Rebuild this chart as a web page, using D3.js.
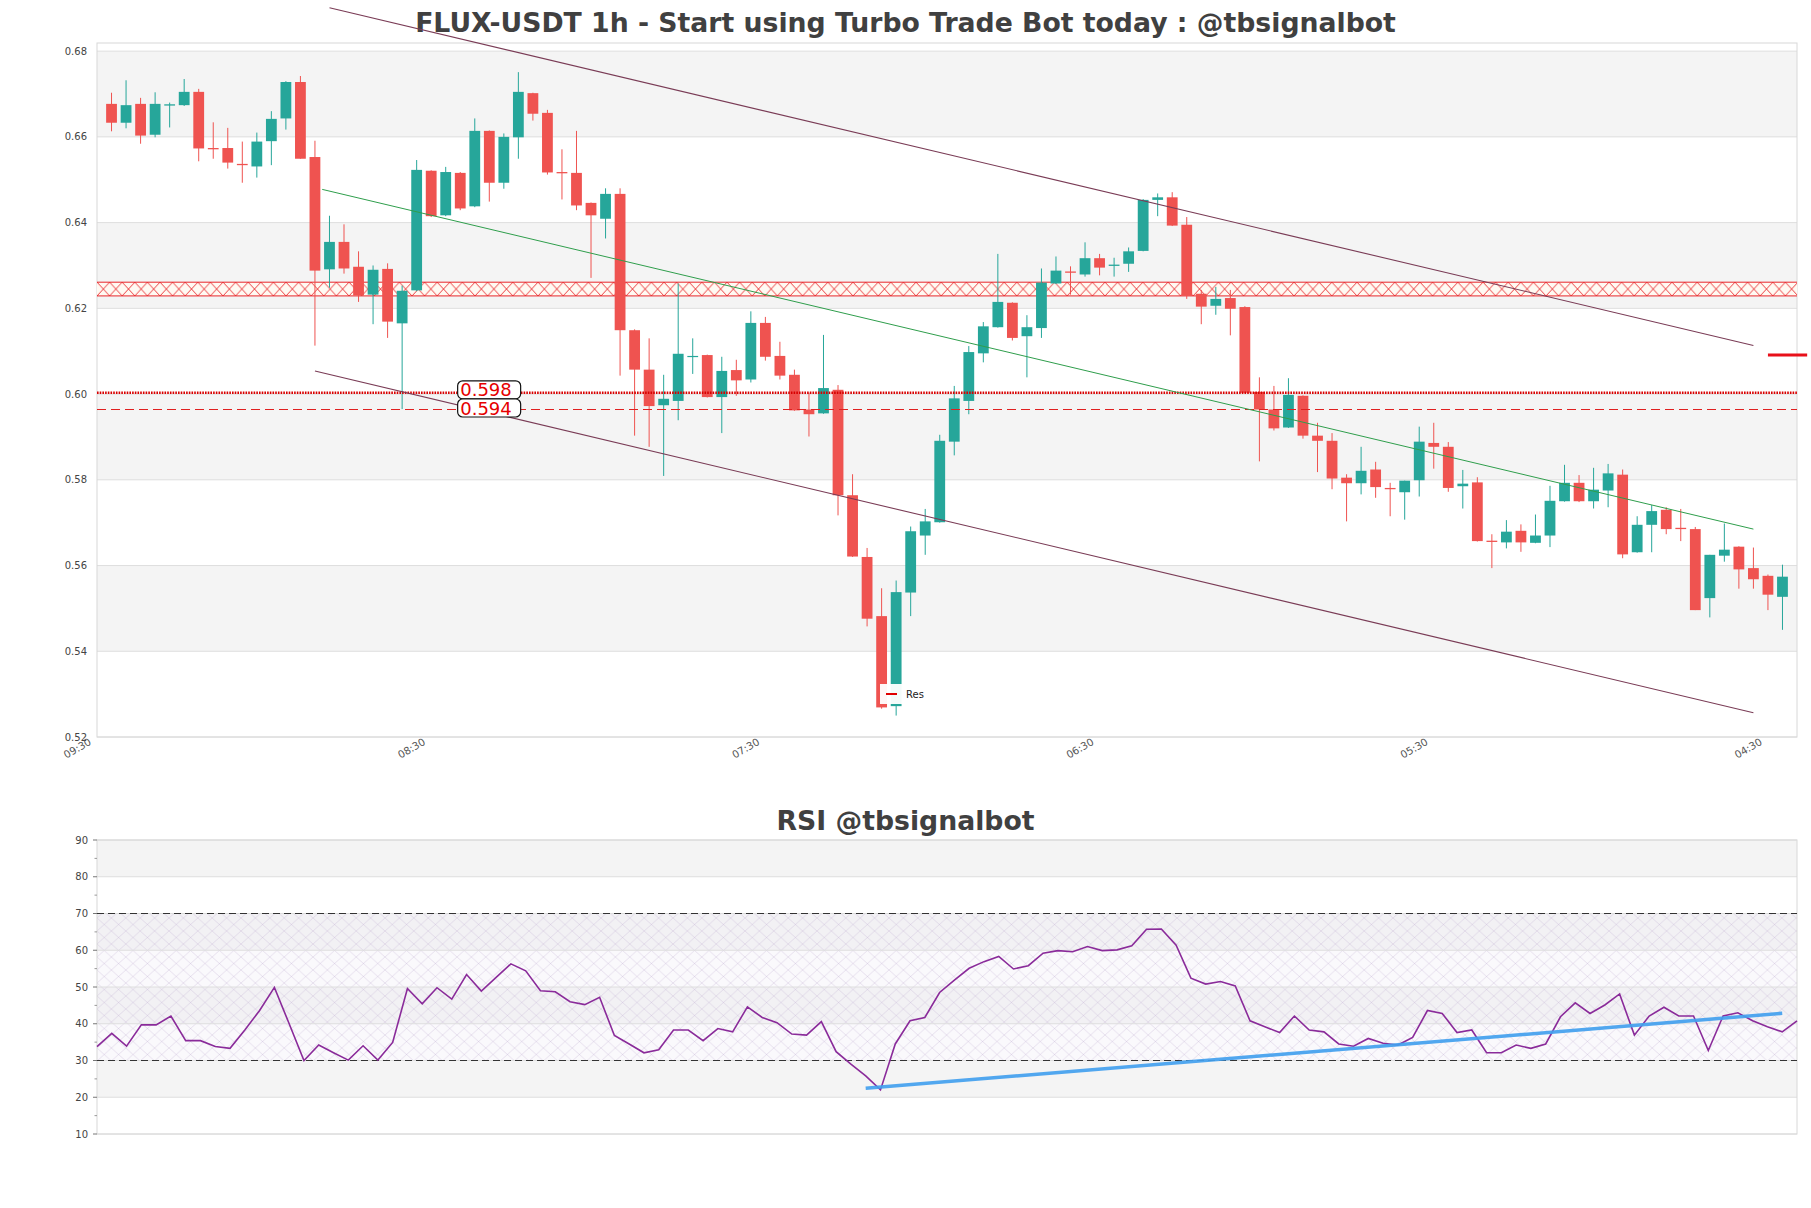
<!DOCTYPE html>
<html><head><meta charset="utf-8">
<script src="https://cdn.jsdelivr.net/npm/d3@7"></script>
<style>
body{margin:0;background:#fff;}
svg{display:block;font-family:"DejaVu Sans",sans-serif;}
</style>
</head><body>
<svg id="c" width="1811" height="1208"></svg>
<script>
// ---------------- DATA ----------------
const opens = [0.6677,0.6633,0.6677,0.6605,0.6673,0.6674,0.6705,0.6574,0.6574,0.6537,
0.6531,0.6590,0.6643,0.6728,0.6553,0.6291,0.6355,0.6297,0.6232,0.6292,
0.6165,0.6242,0.6521,0.6417,0.6516,0.6438,0.6614,0.6493,0.6599,0.6702,
0.6656,0.6518,0.6516,0.6446,0.6409,0.6467,0.6149,0.6057,0.5974,0.5984,
0.6087,0.6091,0.5993,0.6056,0.6034,0.6166,0.6089,0.6045,0.5964,0.5955,
0.6010,0.5764,0.5620,0.5482,0.5272,0.5537,0.5670,0.5701,0.5889,0.5984,
0.6095,0.6156,0.6213,0.6135,0.6154,0.6258,0.6286,0.6279,0.6317,0.6299,
0.6304,0.6334,0.6453,0.6459,0.6395,0.6234,0.6206,0.6224,0.6203,0.6005,
0.5964,0.5922,0.5996,0.5903,0.5891,0.5805,0.5792,0.5824,0.5781,0.5771,
0.5799,0.5886,0.5877,0.5785,0.5794,0.5658,0.5654,0.5681,0.5653,0.5670,
0.5750,0.5793,0.5750,0.5775,0.5812,0.5631,0.5695,0.5730,0.5688,0.5685,
0.5524,0.5623,0.5644,0.5594,0.5576,0.5527];
const highs = [0.6703,0.6732,0.6691,0.6704,0.6680,0.6735,0.6712,0.6634,0.6621,0.6589,
0.6610,0.6660,0.6730,0.6742,0.6591,0.6416,0.6396,0.6333,0.6300,0.6305,
0.6253,0.6546,0.6522,0.6530,0.6518,0.6643,0.6615,0.6608,0.6751,0.6703,
0.6663,0.6571,0.6614,0.6447,0.6480,0.6480,0.6151,0.6130,0.6045,0.6258,
0.6130,0.6092,0.6087,0.6080,0.6193,0.6180,0.6122,0.6057,0.6003,0.6138,
0.6021,0.5813,0.5641,0.5547,0.5565,0.5691,0.5732,0.5905,0.6019,0.6112,
0.6168,0.6327,0.6214,0.6184,0.6293,0.6321,0.6298,0.6354,0.6327,0.6318,
0.6342,0.6455,0.6468,0.6471,0.6413,0.6243,0.6250,0.6243,0.6205,0.6039,
0.6019,0.6037,0.5997,0.5933,0.5909,0.5813,0.5877,0.5842,0.5793,0.5798,
0.5924,0.5933,0.5888,0.5823,0.5806,0.5673,0.5706,0.5696,0.5719,0.5786,
0.5835,0.5811,0.5828,0.5837,0.5824,0.5715,0.5741,0.5736,0.5732,0.5690,
0.5625,0.5698,0.5645,0.5642,0.5579,0.5602];
const lows = [0.6613,0.6620,0.6584,0.6599,0.6622,0.6672,0.6543,0.6549,0.6526,0.6493,
0.6505,0.6534,0.6617,0.6549,0.6113,0.6248,0.6281,0.6215,0.6163,0.6131,
0.5965,0.6240,0.6413,0.6415,0.6429,0.6436,0.6449,0.6479,0.6549,0.6638,
0.6512,0.6454,0.6429,0.6271,0.6363,0.6043,0.5903,0.5877,0.5809,0.5939,
0.6047,0.5992,0.5909,0.5996,0.6027,0.6078,0.6034,0.5961,0.5901,0.5954,
0.5717,0.5620,0.5458,0.5266,0.5250,0.5482,0.5625,0.5700,0.5857,0.5953,
0.6074,0.6155,0.6125,0.6039,0.6131,0.6257,0.6232,0.6274,0.6277,0.6274,
0.6285,0.6333,0.6415,0.6392,0.6222,0.6163,0.6185,0.6137,0.6002,0.5843,
0.5915,0.5921,0.5896,0.5818,0.5778,0.5703,0.5766,0.5758,0.5715,0.5707,
0.5761,0.5826,0.5772,0.5733,0.5656,0.5594,0.5640,0.5632,0.5652,0.5643,
0.5749,0.5748,0.5733,0.5736,0.5617,0.5630,0.5631,0.5673,0.5657,0.5496,
0.5479,0.5609,0.5546,0.5546,0.5496,0.5450];
const closes = [0.6633,0.6674,0.6603,0.6677,0.6676,0.6705,0.6573,0.6571,0.6540,0.6534,
0.6589,0.6642,0.6728,0.6549,0.6288,0.6355,0.6293,0.6230,0.6290,0.6169,
0.6241,0.6523,0.6415,0.6518,0.6433,0.6614,0.6493,0.6600,0.6705,0.6654,
0.6517,0.6515,0.6440,0.6417,0.6467,0.6149,0.6057,0.5972,0.5989,0.6094,
0.6089,0.5993,0.6054,0.6032,0.6166,0.6087,0.6043,0.5962,0.5953,0.6014,
0.5764,0.5621,0.5476,0.5269,0.5538,0.5680,0.5703,0.5891,0.5990,0.6098,
0.6158,0.6215,0.6131,0.6156,0.6260,0.6288,0.6283,0.6317,0.6295,0.6302,
0.6333,0.6453,0.6459,0.6393,0.6229,0.6204,0.6222,0.6199,0.6003,0.5964,
0.5920,0.5998,0.5903,0.5891,0.5803,0.5792,0.5821,0.5783,0.5778,0.5798,
0.5889,0.5877,0.5781,0.5791,0.5657,0.5655,0.5679,0.5654,0.5670,0.5751,
0.5793,0.5750,0.5777,0.5815,0.5626,0.5695,0.5727,0.5685,0.5685,0.5496,
0.5625,0.5637,0.5591,0.5568,0.5532,0.5574];

const rsi = [33.8,37.4,33.9,39.7,39.7,42.1,35.4,35.4,33.8,33.3,
38.3,43.6,49.9,40.0,30.0,34.2,32.1,30.1,34.0,30.1,
34.9,49.6,45.4,49.8,46.7,53.4,48.9,52.6,56.3,54.4,
49.0,48.7,46.0,45.2,47.2,36.8,34.5,32.1,32.9,38.3,
38.3,35.4,38.7,37.8,44.6,41.7,40.3,37.2,36.9,40.6,
32.4,29.0,25.8,22.0,34.5,40.8,41.7,48.5,51.9,55.1,
56.9,58.3,54.9,55.8,59.2,59.9,59.6,61.0,59.9,60.1,
61.2,65.7,65.8,61.4,52.4,50.8,51.5,50.3,40.8,39.2,
37.6,42.1,38.3,37.8,34.5,33.9,36.0,34.7,34.2,36.3,
43.6,42.8,37.6,38.3,32.1,32.1,34.2,33.3,34.5,41.9,
45.7,42.8,45.1,48.1,36.9,42.1,44.5,42.1,42.1,32.7,
42.1,43.0,40.8,39.2,37.8,40.8];

const xTickIndex = [0,23,46,69,92,115];
const xTickLabels = ["09:30","08:30","07:30","06:30","05:30","04:30"];
const priceTicks = [0.52,0.54,0.56,0.58,0.60,0.62,0.64,0.66,0.68];
const rsiTicks = [10,20,30,40,50,60,70,80,90];

// channel lines [index, value]
const upperChannel = [[15,0.69012],[113,0.61134]];
const lowerChannel = [[14,0.60537],[113,0.52567]];
const midChannel   = [[14.5,0.64775],[113,0.56850]];
// resistance zone
const zoneLow = 0.6229, zoneHigh = 0.6261;
// support/resistance levels
const levelValues = [0.6003, 0.5964];
const levelLabels = ["0.598","0.594"];
const levelLabelIndex = 24;
// last price marker
const markerSeg = [[114,0.6091],[116.7,0.6091]];
// RSI trend line
const rsiTrend = [[52,22.45],[114,42.85]];

// ---------------- LAYOUT ----------------
const W=1811;
const M = {left:97,right:1797,top:43,bottom:737};
const R = {left:97,right:1797,top:840,bottom:1134};
const svg = d3.select("#c");
const GREEN="#26a69a", RED="#ef5350";

const x = d3.scaleLinear().domain([-1,116]).range([M.left,M.right]);
const y = d3.scaleLinear().domain([0.52,0.6819]).range([M.bottom,M.top]);
const xr = d3.scaleLinear().domain([0,rsi.length-1]).range([R.left,R.right]);
const yr = d3.scaleLinear().domain([10,90]).range([R.bottom,R.top]);

const defs = svg.append("defs");
// zone hatch
const zh = y(zoneLow)-y(zoneHigh);
const pz = defs.append("pattern").attr("id","zoneHatch").attr("patternUnits","userSpaceOnUse")
  .attr("x",M.left).attr("y",y(zoneHigh)).attr("width",12.6).attr("height",zh);
pz.append("rect").attr("width",12.6).attr("height",zh).attr("fill","#fffaf3");
pz.append("path").attr("d",`M0,0L12.6,${zh}M12.6,0L0,${zh}`).attr("stroke","#e8262a").attr("stroke-width",0.9).attr("fill","none");
// rsi hatch
const pr = defs.append("pattern").attr("id","rsiHatch").attr("patternUnits","userSpaceOnUse")
  .attr("x",R.left).attr("y",R.top).attr("width",14.4).attr("height",13);
pr.append("path").attr("d","M0,0L14.4,13M14.4,0L0,13").attr("stroke","#b9a6cc").attr("stroke-width",0.5).attr("fill","none").attr("opacity",0.75);

// ---------------- TITLES ----------------
svg.append("text").attr("x",W/2).attr("y",31.5).attr("text-anchor","middle")
  .attr("font-size",26.7).attr("font-weight","bold").attr("fill","#404040")
  .text("FLUX-USDT 1h - Start using Turbo Trade Bot today : @tbsignalbot");
svg.append("text").attr("x",W/2).attr("y",829.5).attr("text-anchor","middle")
  .attr("font-size",26.7).attr("font-weight","bold").attr("fill","#404040")
  .text("RSI @tbsignalbot");

// ---------------- MAIN PANEL ----------------
const gm = svg.append("g");
// bands
for(let i=0;i<priceTicks.length-1;i++){
  if(i%2===1){
    gm.append("rect").attr("x",M.left).attr("width",M.right-M.left)
      .attr("y",y(priceTicks[i+1])).attr("height",y(priceTicks[i])-y(priceTicks[i+1]))
      .attr("fill","#f4f4f4");
  }
}
// gridlines
gm.selectAll(".gl").data(priceTicks).join("line")
  .attr("x1",M.left).attr("x2",M.right).attr("y1",d=>y(d)).attr("y2",d=>y(d))
  .attr("stroke","#dedede").attr("stroke-width",1);
// frame
gm.append("rect").attr("x",M.left).attr("y",M.top).attr("width",M.right-M.left).attr("height",M.bottom-M.top)
  .attr("fill","none").attr("stroke","#d8d8d8");
// y labels
gm.selectAll(".yl").data(priceTicks).join("text")
  .attr("x",M.left-10).attr("y",d=>y(d)).attr("dy","0.35em").attr("text-anchor","end")
  .attr("font-size",10).attr("fill","#444").text(d=>d3.format(".2f")(d));
// x labels
gm.selectAll(".xl").data(xTickIndex).join("text")
  .attr("text-anchor","end").attr("font-size",10.3).attr("fill","#555")
  .attr("transform",d=>`translate(${x(d)-19.5},${M.bottom+7}) rotate(-30)`)
  .text((d,i)=>xTickLabels[i]);

// zone
gm.append("rect").attr("x",M.left).attr("width",M.right-M.left)
  .attr("y",y(zoneHigh)).attr("height",zh).attr("fill","url(#zoneHatch)");
gm.selectAll(".zl").data([zoneLow,zoneHigh]).join("line")
  .attr("x1",M.left).attr("x2",M.right).attr("y1",d=>y(d)).attr("y2",d=>y(d))
  .attr("stroke","#e8262a").attr("stroke-width",1);

// candles
const idx = d3.range(opens.length);
const bw = 10.8;
const cg = gm.append("g");
cg.selectAll(".wk").data(idx).join("line")
  .attr("x1",i=>x(i)).attr("x2",i=>x(i)).attr("y1",i=>y(highs[i])).attr("y2",i=>y(lows[i]))
  .attr("stroke",i=>closes[i]>=opens[i]?GREEN:RED).attr("stroke-width",1);
cg.selectAll(".bd").data(idx).join("rect")
  .attr("x",i=>x(i)-bw/2).attr("width",bw)
  .attr("y",i=>y(Math.max(opens[i],closes[i])))
  .attr("height",i=>Math.max(1.2,Math.abs(y(opens[i])-y(closes[i]))))
  .attr("fill",i=>closes[i]>=opens[i]?GREEN:RED);

// levels
gm.append("line").attr("x1",M.left).attr("x2",M.right).attr("y1",y(levelValues[0])).attr("y2",y(levelValues[0]))
  .attr("stroke","#d80000").attr("stroke-width",2.6).attr("stroke-dasharray","1.6,1.1");
gm.append("line").attr("x1",M.left).attr("x2",M.right).attr("y1",y(levelValues[1])).attr("y2",y(levelValues[1]))
  .attr("stroke","#e02020").attr("stroke-width",1.2).attr("stroke-dasharray","9,5");

// channel lines
const ln = d3.line().x(d=>x(d[0])).y(d=>y(d[1]));
gm.append("path").attr("d",ln(upperChannel)).attr("stroke","#7a3c56").attr("stroke-width",1.1).attr("fill","none");
gm.append("path").attr("d",ln(lowerChannel)).attr("stroke","#7a3c56").attr("stroke-width",1.1).attr("fill","none");
gm.append("path").attr("d",ln(midChannel)).attr("stroke","#2f9e4c").attr("stroke-width",1).attr("fill","none");

// level labels
levelValues.forEach((v,k)=>{
  const lx = x(levelLabelIndex);
  const ly = y(v) - (k===0?12:10.5);
  gm.append("rect").attr("x",lx-2.6).attr("y",ly).attr("width",63).attr("height",18)
    .attr("rx",5).attr("fill","#fff").attr("stroke","#111").attr("stroke-width",1.2);
  gm.append("text").attr("x",lx).attr("y",ly+15.5).attr("font-size",18).attr("fill","#e60000").text(levelLabels[k]);
});

// last price marker
gm.append("path").attr("d",ln(markerSeg)).attr("stroke","#e8101a").attr("stroke-width",3).attr("fill","none");

// legend
const lgx = 880, lgy = 684;
gm.append("rect").attr("x",lgx).attr("y",lgy).attr("width",52).attr("height",20).attr("fill","#fff").attr("opacity",0.95);
gm.append("line").attr("x1",lgx+6).attr("x2",lgx+17).attr("y1",lgy+10).attr("y2",lgy+10).attr("stroke","#e00000").attr("stroke-width",2);
gm.append("text").attr("x",lgx+26).attr("y",lgy+13.5).attr("font-size",10).attr("fill","#222").text("Res");

// ---------------- RSI PANEL ----------------
const gr = svg.append("g");
for(let i=0;i<rsiTicks.length-1;i++){
  if(i%2===1){
    gr.append("rect").attr("x",R.left).attr("width",R.right-R.left)
      .attr("y",yr(rsiTicks[i+1])).attr("height",yr(rsiTicks[i])-yr(rsiTicks[i+1]))
      .attr("fill","#f4f4f4");
  }
}
gr.append("rect").attr("x",R.left).attr("width",R.right-R.left)
  .attr("y",yr(70)).attr("height",yr(30)-yr(70)).attr("fill","url(#rsiHatch)");
gr.append("rect").attr("x",R.left).attr("width",R.right-R.left)
  .attr("y",yr(70)).attr("height",yr(30)-yr(70)).attr("fill","#ece6f2").attr("opacity",0.25);
gr.selectAll(".rg").data(rsiTicks).join("line")
  .attr("x1",R.left).attr("x2",R.right).attr("y1",d=>yr(d)).attr("y2",d=>yr(d))
  .attr("stroke","#dedede");
gr.append("rect").attr("x",R.left).attr("y",R.top).attr("width",R.right-R.left).attr("height",R.bottom-R.top)
  .attr("fill","none").attr("stroke","#d8d8d8");
// ticks
gr.selectAll(".rt").data(rsiTicks).join("line")
  .attr("x1",R.left-4).attr("x2",R.left).attr("y1",d=>yr(d)).attr("y2",d=>yr(d)).attr("stroke","#777");
gr.selectAll(".rmt").data(rsiTicks.slice(0,-1).map(d=>d+5)).join("line")
  .attr("x1",R.left-2.5).attr("x2",R.left).attr("y1",d=>yr(d)).attr("y2",d=>yr(d)).attr("stroke","#999");
gr.selectAll(".rl").data(rsiTicks).join("text")
  .attr("x",R.left-9).attr("y",d=>yr(d)).attr("dy","0.35em").attr("text-anchor","end")
  .attr("font-size",10).attr("fill","#444").text(d=>d);
// 70 / 30
gr.selectAll(".rd").data([70,30]).join("line")
  .attr("x1",R.left).attr("x2",R.right).attr("y1",d=>yr(d)).attr("y2",d=>yr(d))
  .attr("stroke","#333").attr("stroke-width",1.2).attr("stroke-dasharray","7,4");
// rsi line
gr.append("path").attr("d",d3.line().x((d,i)=>xr(i)).y(d=>yr(d))(rsi))
  .attr("stroke","#8a2b9a").attr("stroke-width",1.6).attr("fill","none");
gr.append("path").attr("d",d3.line().x(d=>xr(d[0])).y(d=>yr(d[1]))(rsiTrend))
  .attr("stroke","#42a0ee").attr("stroke-width",3.5).attr("fill","none").attr("opacity",0.92);
</script>
</body></html>
